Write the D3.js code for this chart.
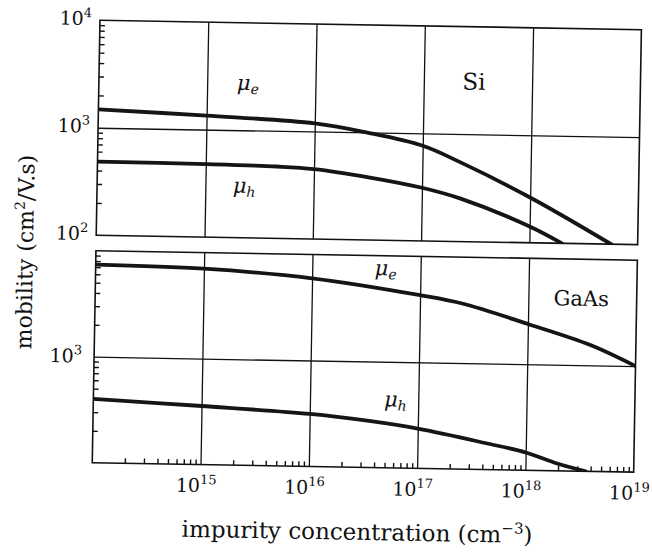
<!DOCTYPE html>
<html>
<head>
<meta charset="utf-8">
<script src="https://cdn.jsdelivr.net/npm/d3@7"></script>
<style>
  body { margin: 0; background: #fff; }
  svg { display: block; }
  text { font-family: "DejaVu Serif", "Liberation Serif", serif; fill: #111; }
</style>
</head>
<body>
<svg id="chart" width="652" height="559"></svg>
<script>
// concentrations (cm^-3) and mobilities (cm2/V.s)
var siConcE = [1e14, 1e15, 1e16, 3e16, 1e17, 2.25e17, 1e18, 5.7e18];
var siMuE   = [1480, 1350, 1190, 1000, 767, 545, 264, 100];
var siConcH = [1e14, 1e15, 4.5e15, 1e16, 3.2e16, 1e17, 2.25e17, 1e18, 2e18];
var siMuH   = [484, 478, 466, 447, 383, 312, 252, 142, 100];
var gaasConcE = [1e14, 1e15, 1e16, 1e17, 2.5e17, 1e18, 3.8e18, 1e19];
var gaasMuE   = [7400, 7050, 5960, 4300, 3630, 2400, 1555, 1000];
var gaasConcH = [1e14, 1e15, 1e16, 3.4e16, 1e17, 4.2e17, 1e18, 1.86e18, 3.6e18];
var gaasMuH   = [400, 357, 313, 276, 237, 178, 147, 119, 100];

var xMajor = [1e15, 1e16, 1e17, 1e18, 1e19];
var xExp = ["15", "16", "17", "18", "19"];
var yTopLabels = [1e4, 1e3, 1e2];
var yTopExp = ["4", "3", "2"];
var yBotLabels = [1e3];
var yBotExp = ["3"];

var svg = d3.select("#chart");
// the printed figure sits about one degree off square
var root = svg.append("g").attr("transform", "rotate(1,370,250)");

var x = d3.scaleLog().domain([1e14, 1e19]).range([96, 637.5]);
var yTop = d3.scaleLog().domain([100, 1e4]).range([240, 25]);
var yBot = d3.scaleLog().domain([100, 1e4]).range([467.5, 255.5]);

// minor ticks 2..9 of every decade
function minors(lo, hi) {
  var out = [];
  for (var e = lo; e < hi; e++) {
    for (var m = 2; m <= 9; m++) out.push(m * Math.pow(10, e));
  }
  return out;
}

function panel(y, id) {
  var g = root.append("g");
  var x0 = x.range()[0], x1 = x.range()[1];
  var yb = y.range()[0], yt = y.range()[1];

  g.append("clipPath").attr("id", id)
    .append("rect").attr("x", x0).attr("y", yt).attr("width", x1 - x0).attr("height", yb - yt);

  // vertical grid
  g.append("g").attr("transform", "translate(0," + yb + ")")
    .call(d3.axisBottom(x).tickValues([1e15, 1e16, 1e17, 1e18]).tickSize(-(yb - yt)).tickFormat(""))
    .call(function (s) { s.select(".domain").remove(); })
    .selectAll("line").attr("stroke", "#111").attr("stroke-width", 1.3);

  // horizontal grid at 10^3
  g.append("g").attr("transform", "translate(" + x0 + ",0)")
    .call(d3.axisLeft(y).tickValues([1e3]).tickSize(-(x1 - x0)).tickFormat(""))
    .call(function (s) { s.select(".domain").remove(); })
    .selectAll("line").attr("stroke", "#111").attr("stroke-width", 1.3);

  // left minor ticks, pointing inward
  g.append("g").attr("transform", "translate(" + x0 + ",0)")
    .call(d3.axisLeft(y).tickValues(minors(2, 4)).tickSize(-5).tickFormat(""))
    .call(function (s) { s.select(".domain").remove(); })
    .selectAll("line").attr("stroke", "#111").attr("stroke-width", 1.4);

  g.append("rect")
    .attr("x", x0).attr("y", yt).attr("width", x1 - x0).attr("height", yb - yt)
    .attr("fill", "none").attr("stroke", "#111").attr("stroke-width", 1.6);
  return g;
}

var gTop = panel(yTop, "clipTop");
var gBot = panel(yBot, "clipBot");

// bottom axis minor ticks
gBot.append("g").attr("transform", "translate(0," + yBot.range()[0] + ")")
  .call(d3.axisBottom(x).tickValues(minors(14, 19)).tickSize(-5).tickFormat(""))
  .call(function (s) { s.select(".domain").remove(); })
  .selectAll("line").attr("stroke", "#111").attr("stroke-width", 1.4);

function curve(g, y, conc, mu, clip) {
  var line = d3.line()
    .x(function (d) { return x(d[0]); })
    .y(function (d) { return y(d[1]); })
    .curve(d3.curveCatmullRom.alpha(0.5));
  g.append("path")
    .datum(d3.zip(conc, mu))
    .attr("clip-path", "url(#" + clip + ")")
    .attr("d", line)
    .attr("fill", "none")
    .attr("stroke", "#151515")
    .attr("stroke-width", 3.8)
    .attr("stroke-linecap", "round");
}

curve(gTop, yTop, siConcE, siMuE, "clipTop");
curve(gTop, yTop, siConcH, siMuH, "clipTop");
curve(gBot, yBot, gaasConcE, gaasMuE, "clipBot");
curve(gBot, yBot, gaasConcH, gaasMuH, "clipBot");

// power-of-ten labels
function powLabel(g, px, py, exp, anchor, size) {
  var t = g.append("text").attr("x", px).attr("y", py)
    .attr("text-anchor", anchor).style("font-size", size + "px");
  t.append("tspan").text("10");
  t.append("tspan").attr("dy", -size * 0.42).style("font-size", Math.round(size * 0.7) + "px").text(exp);
  return t;
}

yTopLabels.forEach(function (v, i) { powLabel(root, 88, yTop(v) + 5, yTopExp[i], "end", 19); });
yBotLabels.forEach(function (v, i) { powLabel(root, 84, yBot(v) + 6, yBotExp[i], "end", 19); });
xMajor.forEach(function (v, i) { powLabel(root, x(v) - 4, 495, xExp[i], "middle", 19); });

// in-plot labels
function mu(g, px, py, sub) {
  var t = g.append("text").attr("x", px).attr("y", py).attr("text-anchor", "middle")
    .style("font-size", "21px").style("font-style", "italic");
  t.append("tspan").text("\u03bc");
  t.append("tspan").attr("dy", 4).style("font-size", "14px").text(sub);
}
mu(root, 245, 92, "e");
mu(root, 243, 195, "h");
mu(root, 386, 275, "e");
mu(root, 398, 406, "h");

root.append("text").attr("x", 471).attr("y", 88).attr("text-anchor", "middle")
  .style("font-size", "23px").text("Si");
root.append("text").attr("x", 582).attr("y", 302).attr("text-anchor", "middle")
  .style("font-size", "21px").text("GaAs");

// axis titles
var xt = root.append("text").attr("x", 362).attr("y", 540).attr("text-anchor", "middle")
  .style("font-size", "23px");
xt.append("tspan").text("impurity concentration (cm");
xt.append("tspan").attr("dy", -9).style("font-size", "15px").text("\u22123");
xt.append("tspan").attr("dy", 9).text(")");

var yt = root.append("text").attr("transform", "translate(33,258) rotate(-90)")
  .attr("text-anchor", "middle").style("font-size", "22px");
yt.append("tspan").text("mobility (cm");
yt.append("tspan").attr("dy", -9).style("font-size", "14px").text("2");
yt.append("tspan").attr("dy", 9).text("/V.s)");
</script>
</body>
</html>
